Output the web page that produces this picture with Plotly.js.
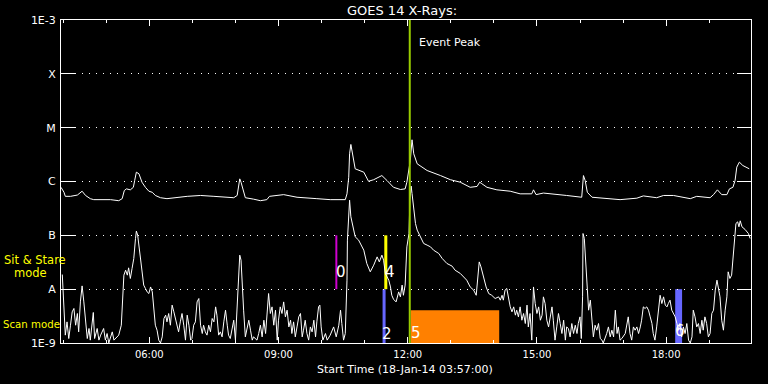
<!DOCTYPE html>
<html>
<head>
<meta charset="utf-8">
<script src="https://cdn.plot.ly/plotly-3.0.1.min.js"></script>
<style>
html,body{margin:0;padding:0;background:#000;}
#chart{width:768px;height:384px;}
</style>
</head>
<body>
<div id="chart"></div>
<script>
// ---- Data (hours of day on 18-Jan-2014, flux in W/m^2) ----
const upTime = [3.95,4.02,4.05,4.17,4.33,4.44,4.52,4.63,4.71,5.10,5.29,5.37,5.42,5.47,5.56,5.63,5.66,5.70,5.76,5.83,5.91,5.99,6.07,6.14,6.26,6.41,6.88,7.19,7.50,7.96,8.04,8.08,8.10,8.13,8.18,8.23,8.42,8.58,8.73,8.79,9.12,9.43,9.89,10.20,10.55,10.59,10.63,10.65,10.68,10.73,10.78,10.98,11.09,11.21,11.32,11.40,11.52,11.67,11.83,11.94,11.98,12.01,12.06,12.10,12.14,12.22,12.45,12.76,12.99,13.22,13.45,13.61,13.67,13.72,13.84,14.07,14.38,14.61,14.88,14.92,14.98,15.15,15.38,15.69,16.04,16.08,16.12,16.17,16.28,16.62,16.93,17.32,17.47,17.78,17.94,18.17,18.56,18.71,19.02,19.10,19.19,19.29,19.41,19.47,19.55,19.60,19.64,19.70,19.78,19.93];
const upFlux = [7.8e-7,6.3e-7,5.3e-7,5.3e-7,5.6e-7,6.6e-7,5.5e-7,4.8e-7,4.6e-7,4.6e-7,4.4e-7,4.8e-7,6.8e-7,7.3e-7,7.0e-7,7.8e-7,1.04e-6,1.49e-6,1.39e-6,9.7e-7,7.8e-7,6.6e-7,6.3e-7,5.5e-7,5.0e-7,4.8e-7,5.3e-7,5.5e-7,5.3e-7,5.0e-7,5.5e-7,8.4e-7,1.12e-6,9.7e-7,6.8e-7,5.0e-7,4.7e-7,4.4e-7,4.6e-7,5.3e-7,5.7e-7,5.1e-7,4.8e-7,4.6e-7,4.6e-7,5.9e-7,1.2e-6,3.27e-6,4.88e-6,2.83e-6,1.72e-6,1.49e-6,1.01e-6,1.08e-6,1.2e-6,1.29e-6,1.04e-6,7.8e-7,7.1e-7,7.3e-7,9.7e-7,1.49e-6,2.45e-6,5.96e-6,3.27e-6,2.13e-6,1.6e-6,1.29e-6,1.08e-6,9.7e-7,7.8e-7,8.1e-7,9.7e-7,9.1e-7,7.8e-7,7.0e-7,6.6e-7,5.9e-7,5.9e-7,7.0e-7,5.7e-7,6.1e-7,5.9e-7,5.5e-7,5.1e-7,1.29e-6,1.04e-6,6.3e-7,5.1e-7,4.8e-7,4.6e-7,4.9e-7,5.4e-7,5.0e-7,5.5e-7,5.5e-7,4.8e-7,5.3e-7,5.0e-7,5.7e-7,7.0e-7,5.7e-7,5.7e-7,7.3e-7,7.8e-7,1.04e-6,1.85e-6,2.29e-6,1.98e-6,1.72e-6];

const loTime = [
3.98,4.00,4.03,4.05,4.09,4.13,4.17,4.21,4.25,4.29,
4.33,4.36,4.40,4.44,4.48,4.52,4.56,4.60,4.63,4.70,
4.73,4.79,4.83,4.87,4.94,4.98,5.02,5.06,5.14,5.18,
5.22,5.29,5.35,5.39,5.41,5.45,5.49,5.52,5.56,5.60,
5.64,5.68,5.70,5.73,5.76,5.79,5.83,5.87,5.91,5.95,
5.99,6.03,6.07,6.10,6.14,6.18,6.22,6.26,6.30,6.34,
6.38,6.41,6.45,6.49,6.53,6.57,6.61,6.65,6.68,6.72,
6.76,6.80,6.84,6.88,6.92,6.96,6.99,7.03,7.07,7.11,
7.15,7.19,7.23,7.26,7.30,7.34,7.38,7.42,7.46,7.50,
7.54,7.57,7.61,7.65,7.69,7.73,7.77,7.81,7.84,7.88,
7.92,7.96,8.00,8.04,8.08,8.10,8.13,8.15,8.19,8.23,
8.27,8.31,8.35,8.39,8.42,8.50,8.54,8.58,8.62,8.66,
8.70,8.73,8.77,8.81,8.85,8.89,8.93,8.97,9.00,9.04,
9.08,9.12,9.16,9.20,9.24,9.28,9.31,9.35,9.39,9.43,
9.47,9.51,9.55,9.58,9.62,9.66,9.70,9.74,9.78,9.82,
9.86,9.89,9.93,9.96,9.99,10.03,10.09,10.13,10.20,10.28,
10.34,10.40,10.44,10.47,10.51,10.55,10.57,10.59,10.60,10.63,
10.65,10.68,10.73,10.78,10.86,10.98,11.05,11.13,11.21,11.29,
11.34,11.40,11.44,11.48,11.56,11.60,11.63,11.67,11.73,11.79,
11.83,11.87,11.90,11.94,11.98,12.00,12.03,12.05,12.08,12.10,
12.14,12.18,12.22,12.30,12.37,12.45,12.53,12.60,12.72,12.80,
12.91,13.03,13.10,13.22,13.30,13.37,13.45,13.53,13.59,13.62,
13.66,13.70,13.76,13.82,13.88,13.95,14.03,14.11,14.15,14.19,
14.22,14.26,14.30,14.34,14.38,14.42,14.46,14.50,14.53,14.57,
14.61,14.65,14.69,14.73,14.77,14.80,14.84,14.88,14.92,14.96,
15.00,15.04,15.08,15.12,15.15,15.19,15.23,15.27,15.31,15.35,
15.38,15.42,15.46,15.50,15.54,15.58,15.62,15.66,15.69,15.73,
15.77,15.81,15.85,15.89,15.93,15.96,16.00,16.03,16.06,16.07,
16.10,16.14,16.17,16.20,16.24,16.28,16.31,16.35,16.39,16.43,
16.47,16.51,16.54,16.62,16.66,16.70,16.74,16.78,16.82,16.86,
16.89,16.93,16.97,17.05,17.09,17.12,17.16,17.20,17.24,17.28,
17.32,17.36,17.40,17.43,17.47,17.51,17.55,17.59,17.63,17.67,
17.70,17.74,17.78,17.82,17.86,17.90,17.94,17.98,18.02,18.05,
18.09,18.13,18.17,18.21,18.25,18.28,18.32,18.36,18.40,18.44,
18.48,18.52,18.56,18.60,18.63,18.67,18.71,18.75,18.79,18.83,
18.86,18.90,18.94,18.98,19.02,19.06,19.10,19.14,19.18,19.21,
19.25,19.29,19.33,19.37,19.41,19.44,19.48,19.52,19.56,19.60,
19.62,19.66,19.69,19.72,19.76,19.83,19.91,19.95];
const loFlux = [
1.87e-8,1.03e-8,3.29e-9,1.40e-9,2.47e-9,1.21e-9,2.14e-9,3.79e-9,4.38e-9,2.14e-9,
3.53e-9,1.61e-9,5.8e-9,1.15e-8,5.8e-9,2.47e-9,1.21e-9,1.86e-9,1.13e-9,3.69e-9,
1.21e-9,1.86e-9,1.13e-9,1.40e-9,1.86e-9,1.13e-9,1.50e-9,1.0e-9,1.61e-9,1.13e-9,
1.21e-9,1.40e-9,2.14e-9,7.7e-9,1.82e-8,2.25e-8,1.82e-8,2.49e-8,1.58e-8,2.43e-8,
3.72e-8,8.75e-8,1.20e-7,1.01e-7,6.58e-8,3.72e-8,2.1e-8,1.19e-8,1.03e-8,8.9e-9,
8.3e-9,1.10e-8,8.9e-9,4.38e-9,2.14e-9,1.73e-9,1.13e-9,1.0e-9,1.30e-9,2.85e-9,
3.29e-9,2.47e-9,3.53e-9,2.14e-9,5.05e-9,3.79e-9,2.85e-9,2.14e-9,1.61e-9,2.47e-9,
3.53e-9,2.14e-9,1.13e-9,3.29e-9,2.14e-9,1.13e-9,1.21e-9,2.14e-9,2.47e-9,5.8e-9,
6.7e-9,2.14e-9,1.50e-9,2.14e-9,1.61e-9,1.40e-9,2.14e-9,1.61e-9,2.85e-9,2.47e-9,
4.69e-9,3.29e-9,1.40e-9,1.61e-9,1.30e-9,2.47e-9,4.07e-9,2.14e-9,1.40e-9,1.21e-9,
1.73e-9,2.65e-9,1.13e-9,4.69e-9,2.6e-8,4.28e-8,3.46e-8,1.47e-8,4.07e-9,1.30e-9,
1.99e-9,2.65e-9,1.73e-9,1.13e-9,1.30e-9,1.13e-9,1.50e-9,2.14e-9,1.30e-9,2.65e-9,
1.50e-9,3.53e-9,8.3e-9,3.53e-9,4.69e-9,2.14e-9,4.07e-9,1.13e-9,2.65e-9,4.69e-9,
3.53e-9,5.8e-9,3.06e-9,4.07e-9,1.99e-9,2.65e-9,1.50e-9,2.47e-9,1.30e-9,1.99e-9,
3.06e-9,3.53e-9,1.30e-9,1.73e-9,2.65e-9,1.50e-9,1.13e-9,1.99e-9,1.61e-9,2.65e-9,
1.30e-9,2.47e-9,4.69e-9,5.05e-9,1.99e-9,1.13e-9,1.50e-9,1.13e-9,1.40e-9,1.99e-9,
1.30e-9,2.14e-9,4.07e-9,2.30e-9,1.13e-9,1.50e-9,4.69e-9,1.47e-8,8.15e-8,3.39e-7,
4.5e-7,2.21e-7,1.44e-7,9.4e-8,8.15e-8,5.3e-8,3.0e-8,2.1e-8,2.79e-8,3.98e-8,
3.21e-8,4.28e-8,3.46e-8,1.96e-8,1.47e-8,1.10e-8,7.7e-9,6.5e-9,5.8e-9,8.9e-9,
7.2e-9,1.19e-8,7.7e-9,1.19e-8,6.1e-8,8.15e-8,1.08e-7,4.5e-7,8.2e-7,6.0e-7,
2.94e-7,1.66e-7,1.25e-7,9.4e-8,7.06e-8,6.58e-8,6.1e-8,5.3e-8,4.61e-8,3.72e-8,
3.0e-8,2.68e-8,2.25e-8,1.96e-8,1.69e-8,1.47e-8,1.10e-8,9.6e-9,7.7e-9,1.47e-8,
3.21e-8,2.6e-8,1.69e-8,1.10e-8,8.3e-9,7.7e-9,6.7e-9,7.2e-9,6.25e-9,7.7e-9,
6.25e-9,9.6e-9,1.03e-8,6.25e-9,4.69e-9,3.79e-9,4.69e-9,3.29e-9,4.07e-9,3.06e-9,
4.69e-9,2.65e-9,3.53e-9,2.30e-9,5.05e-9,1.99e-9,3.53e-9,1.13e-9,1.10e-8,5.4e-9,
3.53e-9,4.69e-9,2.65e-9,3.29e-9,7.2e-9,5.4e-9,2.65e-9,1.99e-9,3.06e-9,4.69e-9,
2.65e-9,1.13e-9,1.99e-9,3.53e-9,2.30e-9,1.50e-9,2.65e-9,1.13e-9,1.99e-9,1.86e-9,
1.30e-9,2.30e-9,1.50e-9,2.14e-9,1.50e-9,2.30e-9,3.06e-9,1.21e-9,7.2e-9,1.08e-7,
8.75e-8,2.6e-8,7.2e-9,4.07e-9,6.25e-9,2.30e-9,1.30e-9,2.14e-9,1.73e-9,2.30e-9,
1.21e-9,1.13e-9,1.0e-9,1.50e-9,1.99e-9,1.30e-9,1.73e-9,1.30e-9,4.07e-9,1.50e-9,
1.99e-9,1.13e-9,1.21e-9,1.50e-9,2.30e-9,3.06e-9,1.50e-9,1.13e-9,1.99e-9,1.73e-9,
1.99e-9,1.50e-9,1.99e-9,2.65e-9,4.69e-9,4.38e-9,4.69e-9,4.07e-9,3.06e-9,2.30e-9,
1.50e-9,1.13e-9,1.99e-9,4.07e-9,7.7e-9,5.4e-9,7.2e-9,5.05e-9,4.69e-9,5.4e-9,
6.25e-9,4.07e-9,3.53e-9,3.06e-9,2.30e-9,1.73e-9,2.30e-9,1.30e-9,1.99e-9,1.50e-9,
2.30e-9,1.13e-9,1.0e-9,1.30e-9,4.07e-9,3.06e-9,1.99e-9,2.30e-9,1.50e-9,2.65e-9,
1.73e-9,3.06e-9,2.30e-9,1.30e-9,1.50e-9,3.53e-9,4.07e-9,9.6e-9,1.47e-8,1.10e-8,
7.2e-9,2.65e-9,1.73e-9,4.07e-9,7.2e-9,2.1e-8,1.58e-8,1.82e-8,4.61e-8,8.75e-8,
1.66e-7,1.78e-7,1.44e-7,1.86e-7,1.44e-7,1.29e-7,1.08e-7,8.75e-8];

// Axis labels
const yTickVals = [1e-9,1e-8,1e-7,1e-6,1e-5,1e-4,1e-3];
const yTickText = ['1E-9','A','B','C','M','X','1E-3'];
const xTickVals = [6,9,12,15,18];
const xTickText = ['06:00','09:00','12:00','15:00','18:00'];

// Observation marks (hours): label, start, end, mode
const markLabel = ['0','4','2','5','6'];
const markStart = [10.32,11.456,11.416,12.07,18.21];
const markEnd   = [10.366,11.526,11.486,14.124,18.37];
const markMode  = ['sit','sit','scan','scanlong','scan'];
const eventPeak = 12.047;

// ---- Build ----
const font = 'DejaVu Sans, sans-serif';
const markColor = ['#d000d0','#ffff00','#6666ff','#ff8000','#6666ff'];
const shapes = [];
const annotations = [];
for (let i = 0; i < markLabel.length; i++) {
  let y0, y1;
  if (markMode[i] === 'sit') { y0 = 1e-8; y1 = 1e-7; }
  else if (markMode[i] === 'scan') { y0 = 1e-9; y1 = 1e-8; }
  else { y0 = 1e-9; y1 = 4.07e-9; }
  shapes.push({type:'rect', xref:'x', yref:'y', x0:markStart[i], x1:markEnd[i], y0:y0, y1:y1,
    fillcolor:markColor[i], line:{width:0}, layer:'below'});
}
shapes.push({type:'line', xref:'x', yref:'y', x0:eventPeak, x1:eventPeak, y0:1e-9, y1:1e-3,
  line:{color:'#99cc00', width:2}, layer:'above'});

const labelPos = [[10.45,-7.69],[11.595,-7.69],[11.525,-8.836],[12.2,-8.808],[18.32,-8.78]];
for (let i = 0; i < markLabel.length; i++) {
  annotations.push({x:labelPos[i][0], y:labelPos[i][1], xref:'x', yref:'y', text:markLabel[i],
    showarrow:false, xanchor:'center', yanchor:'middle', font:{family:font, size:15, color:'#fff'}});
}
annotations.push({x:12.99, y:-3.427, xref:'x', yref:'y', text:'Event Peak', showarrow:false,
  xanchor:'center', yanchor:'middle', font:{family:font, size:11, color:'#fff'}});
annotations.push({x:(2-61)/690, y:-7.461, xref:'paper', yref:'y', text:'Sit & Stare', showarrow:false,
  xanchor:'left', yanchor:'middle', font:{family:font, size:11.5, color:'#ffff00'}});
annotations.push({x:(12-61)/690, y:-7.693, xref:'paper', yref:'y', text:'mode', showarrow:false,
  xanchor:'left', yanchor:'middle', font:{family:font, size:11.5, color:'#ffff00'}});
annotations.push({x:(1-61)/690, y:-8.651, xref:'paper', yref:'y', text:'Scan mode', showarrow:false,
  xanchor:'left', yanchor:'middle', font:{family:font, size:10.2, color:'#ffff00'}});
annotations.push({x:(405-61)/690, y:(343-369)/323, xref:'paper', yref:'paper',
  text:'Start Time (18-Jan-14 03:57:00)', showarrow:false,
  xanchor:'center', yanchor:'middle', font:{family:font, size:11, color:'#fff'}});

const traces = [
  {x:upTime, y:upFlux, type:'scatter', mode:'lines', line:{color:'#fff', width:1}, hoverinfo:'skip'},
  {x:loTime, y:loFlux, type:'scatter', mode:'lines', line:{color:'#fff', width:1}, hoverinfo:'skip'}
];

const layout = {
  width:768, height:384,
  paper_bgcolor:'#000', plot_bgcolor:'#000',
  margin:{l:61, r:17, t:20, b:41},
  showlegend:false,
  font:{family:font, color:'#fff', size:11},
  title:{text:'GOES 14 X-Rays:', x:402/768, xanchor:'center', y:1-10/384, yanchor:'middle',
    font:{family:font, size:13, color:'#fff'}},
  xaxis:{range:[3.95,19.97], showgrid:false, zeroline:false,
    tickvals:xTickVals, ticktext:xTickText, ticks:'inside', ticklen:6, tickcolor:'#fff', tickwidth:1,
    minor:{dtick:1, tick0:0, ticks:'inside', ticklen:3, tickcolor:'#fff', showgrid:false},
    showline:true, linecolor:'#fff', linewidth:1, mirror:'ticks',
    tickfont:{family:font, size:10, color:'#fff'}, ticklabelstandoff:2},
  yaxis:{type:'log', range:[-9,-3], tickvals:yTickVals, ticktext:yTickText,
    ticks:'inside', ticklen:14, tickcolor:'#fff', tickwidth:1,
    showgrid:true, gridcolor:'#fff', gridwidth:1, griddash:'1px,6px',
    showline:true, linecolor:'#fff', linewidth:1, mirror:'ticks', zeroline:false,
    tickfont:{family:font, size:11, color:'#fff'}, ticklabelstandoff:2},
  shapes:shapes,
  annotations:annotations
};

Plotly.newPlot('chart', traces, layout, {staticPlot:true, displayModeBar:false});
</script>
</body>
</html>
